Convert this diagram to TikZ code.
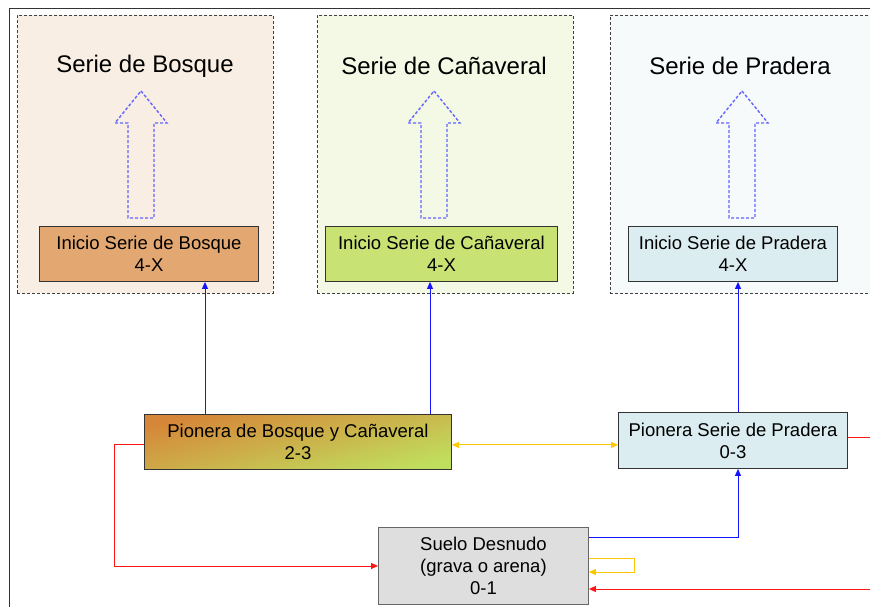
\documentclass[tikz,border=0pt]{standalone}
\usepackage{fontspec}
\setmainfont{Liberation Sans}
\usetikzlibrary{arrows.meta,calc}
\definecolor{fBos}{RGB}{248,238,228}
\definecolor{fCan}{RGB}{244,249,230}
\definecolor{fPra}{RGB}{246,250,251}
\definecolor{cBos}{RGB}{227,168,114}
\definecolor{cCan}{RGB}{201,226,116}
\definecolor{cPra}{RGB}{219,237,240}
\definecolor{gOr}{RGB}{214,134,56}
\definecolor{gGr}{RGB}{192,222,94}
\definecolor{cSue}{RGB}{222,222,222}
\definecolor{lBlu}{RGB}{20,20,255}
\definecolor{lRed}{RGB}{255,20,20}
\definecolor{lYel}{RGB}{255,200,0}
\definecolor{bArr}{RGB}{100,100,255}
\tikzset{
  serie/.style={draw=black!75, dash pattern=on 3pt off 2pt, line width=0.8pt, anchor=north west, inner sep=0pt},
  ttl/.style={font=\fontsize{24pt}{28pt}\selectfont, inner sep=0pt},
  stage/.style={draw=black!80, line width=0.9pt, anchor=north west, inner sep=0pt, align=center, font=\fontsize{18.5pt}{22pt}\selectfont},
  tip/.style={-{Triangle[length=7pt,width=6pt]}},
  blu/.style={draw=lBlu, line width=0.9pt, tip},
  redl/.style={draw=lRed, line width=0.9pt},
  yel/.style={draw=lYel, line width=0.9pt},
  blockarrow/.style={draw=bArr, line width=1.4pt, dash pattern=on 3pt off 2pt},
  blockup/.pic={\draw[blockarrow] (0,0) -- (26,32) -- (13,32) -- (13,127) -- (-13,127) -- (-13,32) -- (-26,32) -- cycle;}
}
\begin{document}
\begin{tikzpicture}[x=1pt,y=-1pt]
\useasboundingbox (0,0) rectangle (870,606);
\clip (0,0) rectangle (870,606);
\fill[white] (0,0) rectangle (870,606);
\draw[black!80, line width=1.3pt] (875,8.5) -- (9.5,8.5) -- (9.5,612);

% series panels
\node[serie, fill=fBos, minimum width=256pt, minimum height=278pt] (sb) at (17,15) {};
\node[serie, fill=fCan, minimum width=256pt, minimum height=278pt] (sc) at (317,15) {};
\node[serie, fill=fPra, minimum width=280pt, minimum height=278pt] (sp) at (610,15) {};

\node[ttl] (tb) at (145,66) {Serie de Bosque};
\node[ttl] (tc) at (444,66) {Serie de Cañaveral};
\node[ttl] (tp) at (740,66) {Serie de Pradera};

\pic at (141,91) {blockup};
\pic at (434,91) {blockup};
\pic at (742,91) {blockup};

% stage boxes
\node[stage, fill=cBos, minimum width=219pt, minimum height=55pt] (ib) at (39,226) {Inicio Serie de Bosque\\4-X};
\node[stage, fill=cCan, minimum width=232pt, minimum height=55pt] (ic) at (325,226) {Inicio Serie de Cañaveral\\4-X};
\node[stage, fill=cPra, minimum width=209pt, minimum height=55pt] (ip) at (628,226) {Inicio Serie de Pradera\\4-X};

\node[stage, shading=axis, top color=gOr, bottom color=gGr, shading angle=14, minimum width=307pt, minimum height=55pt] (pbc) at (144,414) {Pionera de Bosque y Cañaveral\\2-3};
\node[stage, fill=cPra, minimum width=229pt, minimum height=56pt] (pp) at (618,412) {Pionera Serie de Pradera\\0-3};
\node[stage, draw=black!60, fill=cSue, minimum width=210pt, minimum height=77pt] (sd) at (378,527) {Suelo Desnudo\\(grava o arena)\\0-1};

% blue connectors
\coordinate (a1) at ($(pbc.north west)+(61,0)$);
\coordinate (a2) at ($(pbc.north west)+(286,0)$);
\coordinate (a3) at ($(pp.north west)+(120,0)$);
\coordinate (s1) at ($(sd.north east)+(0,10)$);
\draw[blu] (a1) -- (a1 |- ib.south);
\draw[blu] (a2) -- (a2 |- ic.south);
\draw[blu] (a3) -- (a3 |- ip.south);
\draw[blu] (s1) -- (s1 -| a3) -- (a3 |- pp.south);

% yellow connectors
\coordinate (y1) at ($(pbc.south east)+(0,-25)$);
\draw[yel, {Triangle[length=7pt,width=6pt]}-{Triangle[length=7pt,width=6pt]}] (y1) -- (y1 -| pp.west);
\coordinate (l1) at ($(sd.north east)+(0,31)$);
\draw[yel, tip] (l1) -- ++(46,0) -- ++(0,14) -- ++(-46,0);

% red connectors
\coordinate (r1) at ($(pbc.north west)+(0,30)$);
\draw[redl, tip] (r1) -- ++(-29.5,0) |- (sd.west);
\coordinate (r3) at ($(pp.north east)+(0,25)$);
\coordinate (out1) at (875,437);
\draw[redl] (r3) -- (out1);
\coordinate (in1) at (875,589);
\draw[redl, tip] (in1) -- (in1 -| sd.east);
\end{tikzpicture}
\end{document}
